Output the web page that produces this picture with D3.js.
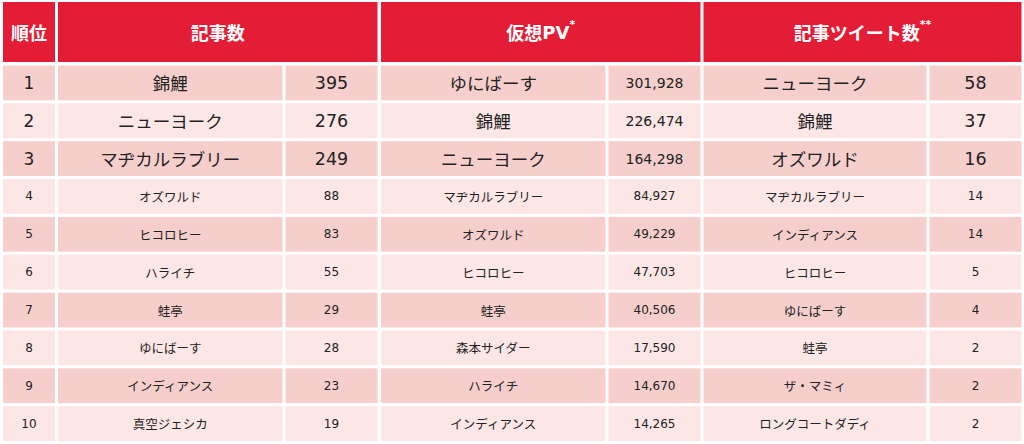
<!DOCTYPE html>
<html><head><meta charset="utf-8">
<script src="https://cdn.jsdelivr.net/npm/d3@7"></script>
<style>
html,body{margin:0;padding:0;background:#fff;}
svg{display:block;}
</style></head>
<body>
<svg id="chart" width="1024" height="444"></svg>
<script>
// ---- data ----
const ranks = [1,2,3,4,5,6,7,8,9,10];
const headerRank = "順位";
const groupTitles = ["記事数", "仮想PV", "記事ツイート数"];
const groupMarks = ["", "*", "**"];
const articleNames = ["錦鯉","ニューヨーク","マヂカルラブリー","オズワルド","ヒコロヒー","ハライチ","蛙亭","ゆにばーす","インディアンス","真空ジェシカ"];
const articleValues = [395,276,249,88,83,55,29,28,23,19];
const pvNames = ["ゆにばーす","錦鯉","ニューヨーク","マヂカルラブリー","オズワルド","ヒコロヒー","蛙亭","森本サイダー","ハライチ","インディアンス"];
const pvValues = [301928,226474,164298,84927,49229,47703,40506,17590,14670,14265];
const tweetNames = ["ニューヨーク","錦鯉","オズワルド","マヂカルラブリー","インディアンス","ヒコロヒー","ゆにばーす","蛙亭","ザ・マミィ","ロングコートダディ"];
const tweetValues = [58,37,16,14,14,5,4,2,2,2];

// ---- layout ----
const RED = "#e21d35", ODD = "#f6cfcd", EVEN = "#fce7e6", TXT = "#222";
const FONT = "'DejaVu Sans','Noto Sans CJK JP',sans-serif";
const JFONT = "'Noto Sans CJK JP',sans-serif";
const svg = d3.select("#chart");

const y = d3.scaleBand().domain(ranks).range([65.5, 441]).paddingInner(0.08).paddingOuter(0);
const rankCol = {x0: 3, x1: 55};
const groups = [
  {names: articleNames, values: articleValues, x0: 58, split: 282.5, x1: 377.5},
  {names: pvNames, values: pvValues, x0: 381, split: 605.5, x1: 700.5},
  {names: tweetNames, values: tweetValues, x0: 703.5, split: 926.5, x1: 1021.5}
];
const gap = 3;
const fmt = d3.format(",");

// header
svg.append("rect").attr("x", rankCol.x0).attr("y", 2).attr("width", rankCol.x1 - rankCol.x0).attr("height", 60).attr("fill", RED);
svg.append("text").attr("x", (rankCol.x0 + rankCol.x1)/2).attr("y", 32)
  .attr("text-anchor","middle").attr("dominant-baseline","central")
  .attr("font-family", JFONT).attr("font-weight","bold").attr("font-size", 18).attr("fill","#fff").text(headerRank);

groups.forEach((g, gi) => {
  svg.append("rect").attr("x", g.x0).attr("y", 2).attr("width", g.x1 - g.x0).attr("height", 60).attr("fill", RED);
  const t = svg.append("text").attr("x", (g.x0 + g.x1)/2).attr("y", 32)
    .attr("text-anchor","middle").attr("dominant-baseline","central")
    .attr("font-family", FONT).attr("font-weight","bold").attr("font-size", 18).attr("fill","#fff");
  t.append("tspan").attr("font-family", "'Noto Sans CJK JP',sans-serif").text(groupTitles[gi].replace("PV",""));
  if (groupTitles[gi].includes("PV")) t.append("tspan").attr("font-family","'DejaVu Sans',sans-serif").text("PV");
  if (groupMarks[gi]) t.append("tspan").attr("font-size", 11).attr("dy", -8).text(groupMarks[gi]);
});

// body rows
const rows = svg.selectAll("g.row").data(ranks).join("g").attr("class","row")
  .attr("transform", d => `translate(0,${y(d)})`);
const bh = y.bandwidth();
const big = d => d <= 3;

rows.append("rect").attr("x", rankCol.x0).attr("width", rankCol.x1 - rankCol.x0).attr("height", bh)
  .attr("fill", d => d % 2 ? ODD : EVEN);
rows.append("text").attr("x", (rankCol.x0 + rankCol.x1)/2).attr("y", bh/2)
  .attr("text-anchor","middle").attr("dominant-baseline","central")
  .attr("font-family", FONT).attr("font-size", d => big(d) ? 17 : 12).attr("fill", TXT).text(d => d);

groups.forEach((g, gi) => {
  rows.append("rect").attr("x", g.x0).attr("width", g.split - g.x0).attr("height", bh)
    .attr("fill", d => d % 2 ? ODD : EVEN);
  rows.append("rect").attr("x", g.split + gap).attr("width", g.x1 - g.split - gap).attr("height", bh)
    .attr("fill", d => d % 2 ? ODD : EVEN);
  rows.append("text").attr("x", (g.x0 + g.split)/2).attr("y", bh/2)
    .attr("text-anchor","middle").attr("dominant-baseline","central")
    .attr("font-family", JFONT).attr("font-size", d => big(d) ? 17.5 : 12.5).attr("fill", TXT)
    .text((d, i) => g.names[i]);
  rows.append("text").attr("x", (g.split + gap + g.x1)/2).attr("y", bh/2)
    .attr("text-anchor","middle").attr("dominant-baseline","central")
    .attr("font-family", FONT).attr("font-size", d => big(d) ? (gi === 1 ? 14 : 17.5) : 12).attr("fill", TXT)
    .text((d, i) => fmt(g.values[i]));
});
</script>
</body></html>
